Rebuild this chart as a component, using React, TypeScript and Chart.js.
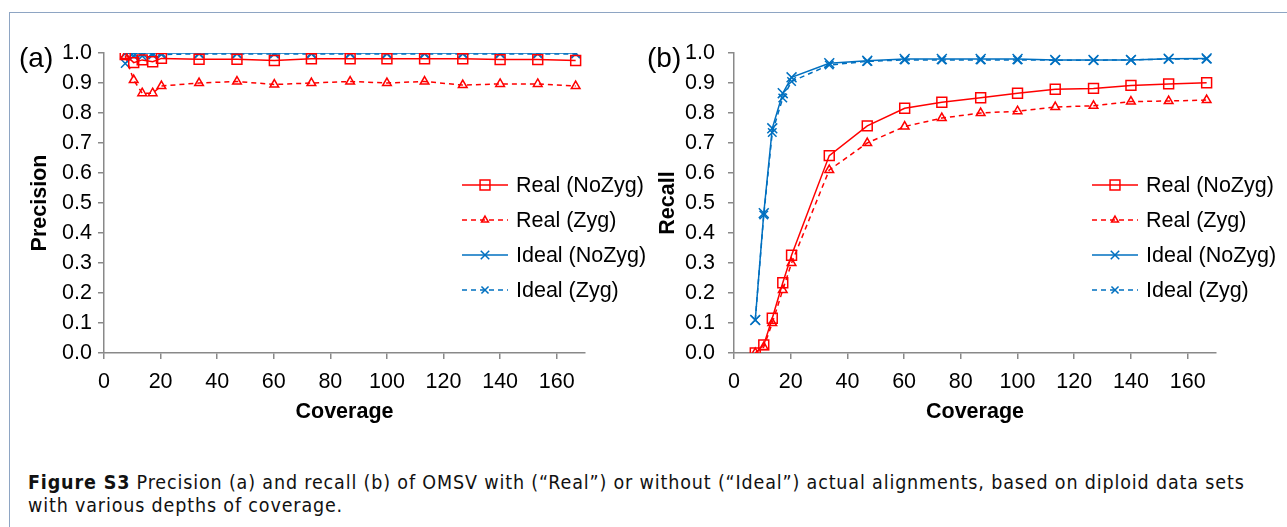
import React, { useEffect, useRef } from 'react';
import { Chart, registerables } from 'chart.js';

Chart.register(...registerables);

// ---------- data ----------
const coverage = [7.5, 10.5, 13.5, 17.2, 20.3, 33.6, 47, 60.2, 73.3, 87, 100, 113.3, 126.8, 140, 153.3, 166.7];

const seriesLabels = ['Real (NoZyg)', 'Real (Zyg)', 'Ideal (NoZyg)', 'Ideal (Zyg)'];

// Panel (a) precision
const precisionRealNoZyg = [0.995, 0.968, 0.977, 0.971, 0.982, 0.979, 0.979, 0.975, 0.981, 0.981, 0.981, 0.981, 0.981, 0.978, 0.978, 0.975];
const precisionRealZyg = [0.99, 0.91, 0.866, 0.866, 0.89, 0.9, 0.905, 0.895, 0.9, 0.905, 0.9, 0.905, 0.893, 0.897, 0.897, 0.89];
const precisionIdealNoZyg = [0.998, 1.0, 1.0, 1.0, 1.0, 1.0, 1.0, 1.0, 1.0, 1.0, 1.0, 1.0, 1.0, 1.0, 1.0, 1.0];
const precisionIdealZyg = [0.965, 0.99, 0.99, 0.993, 0.995, 0.997, 0.997, 0.997, 0.997, 0.997, 0.997, 0.997, 0.997, 0.997, 0.997, 0.997];

// Panel (b) recall
const recallRealNoZyg = [0.0, 0.027, 0.116, 0.234, 0.326, 0.658, 0.757, 0.816, 0.836, 0.851, 0.866, 0.879, 0.882, 0.892, 0.897, 0.901];
const recallRealZyg = [0.0, 0.02, 0.1, 0.21, 0.3, 0.61, 0.7, 0.755, 0.783, 0.8, 0.806, 0.82, 0.824, 0.838, 0.84, 0.843];
const recallIdealNoZyg = [0.11, 0.466, 0.749, 0.866, 0.919, 0.966, 0.974, 0.98, 0.98, 0.98, 0.98, 0.977, 0.977, 0.977, 0.981, 0.982];
const recallIdealZyg = [0.11, 0.46, 0.735, 0.85, 0.905, 0.96, 0.972, 0.977, 0.977, 0.977, 0.977, 0.976, 0.976, 0.977, 0.98, 0.98];

const xMin = 0;
const xMax = 170;
const xStep = 20;
const yMin = 0;
const yMax = 1;
const yStep = 0.1;

// ---------- styles ----------
const RED = '#FF0000';
const BLUE = '#0070C0';
const AXIS = '#898989';
const FONT = "'Liberation Sans', Arial, Helvetica, sans-serif";
const FS = 21.5;

type Style = { color: string; dash: number[]; point: string; radius: number };
const styles: Style[] = [
  { color: RED, dash: [], point: 'rect', radius: 7 },
  { color: RED, dash: [5, 4], point: 'triangle', radius: 5 },
  { color: BLUE, dash: [], point: 'crossRot', radius: 7 },
  { color: BLUE, dash: [5, 4], point: 'crossRot', radius: 6 },
];

function buildDatasets(values: number[][]) {
  return values.map((vals, i) => ({
    label: seriesLabels[i],
    data: vals.map((v, k) => ({ x: coverage[k], y: v })),
    borderColor: styles[i].color,
    backgroundColor: 'rgba(0,0,0,0)',
    borderWidth: 1.5,
    borderDash: styles[i].dash,
    pointStyle: styles[i].point,
    pointRadius: styles[i].radius,
    pointBorderWidth: 1.5,
    pointBorderColor: styles[i].color,
    pointBackgroundColor: 'rgba(0,0,0,0)',
    tension: 0,
    fill: false,
  }));
}

function drawMarker(ctx: CanvasRenderingContext2D, style: string, x: number, y: number, r: number) {
  ctx.beginPath();
  if (style === 'rect') {
    const s = r * Math.SQRT1_2;
    ctx.rect(x - s, y - s, 2 * s, 2 * s);
  } else if (style === 'triangle') {
    ctx.moveTo(x, y - r);
    ctx.lineTo(x + r * Math.sin((2 * Math.PI) / 3), y - r * Math.cos((2 * Math.PI) / 3));
    ctx.lineTo(x + r * Math.sin((4 * Math.PI) / 3), y - r * Math.cos((4 * Math.PI) / 3));
    ctx.closePath();
  } else {
    const o = r * Math.SQRT1_2;
    ctx.moveTo(x - o, y - o);
    ctx.lineTo(x + o, y + o);
    ctx.moveTo(x - o, y + o);
    ctx.lineTo(x + o, y - o);
  }
  ctx.stroke();
}

const legendPlugin = {
  id: 'insideLegend',
  afterDraw(chart: any) {
    const { ctx, chartArea } = chart;
    const x0 = chartArea.left + 358;
    chart.data.datasets.forEach((ds: any, i: number) => {
      const y = 185 + i * 35;
      ctx.save();
      ctx.strokeStyle = ds.borderColor;
      ctx.lineWidth = 1.5;
      ctx.setLineDash(ds.borderDash || []);
      ctx.beginPath();
      ctx.moveTo(x0, y);
      ctx.lineTo(x0 + 46, y);
      ctx.stroke();
      ctx.setLineDash([]);
      drawMarker(ctx, ds.pointStyle, x0 + 23, y, ds.pointStyle === 'rect' ? 7 : ds.pointRadius - 1);
      ctx.fillStyle = '#000';
      ctx.font = `${FS}px ${FONT}`;
      ctx.textBaseline = 'middle';
      ctx.textAlign = 'left';
      ctx.fillText(ds.label, x0 + 54, y + 1);
      ctx.restore();
    });
  },
};

type PanelProps = {
  left: number;
  width: number;
  values: number[][];
  yTitle: string;
  yWidth: number;
  yTitlePad: number;
  yTickPad: number;
  rightPad: number;
};

const CANVAS_H = 440;

function Panel({ left, width, values, yTitle, yWidth, yTitlePad, yTickPad, rightPad }: PanelProps) {
  const ref = useRef<HTMLCanvasElement | null>(null);
  useEffect(() => {
    if (!ref.current) return;
    const chart = new Chart(ref.current, {
      type: 'line',
      data: { datasets: buildDatasets(values) as any },
      options: {
        animation: false,
        responsive: false,
        maintainAspectRatio: false,
        layout: { padding: { left: 0, top: 53, right: rightPad, bottom: 0 } },
        plugins: { legend: { display: false }, tooltip: { enabled: false } },
        scales: {
          x: {
            type: 'linear',
            min: xMin,
            max: xMax,
            afterFit: (s: any) => {
              s.height = CANVAS_H - 353;
            },
            ticks: {
              stepSize: xStep,
              includeBounds: false,
              autoSkip: false,
              maxRotation: 0,
              padding: 10,
              color: '#000',
              font: { family: FONT, size: FS },
            },
            grid: { drawOnChartArea: false, drawTicks: true, tickLength: 6, color: AXIS, lineWidth: 1.5 },
            border: { display: true, color: AXIS, width: 1.5 },
            title: {
              display: true,
              text: 'Coverage',
              color: '#000',
              font: { family: FONT, size: FS, weight: 'bold' },
              padding: { top: 0, bottom: 15 },
            },
          },
          y: {
            type: 'linear',
            min: yMin,
            max: yMax,
            afterFit: (s: any) => {
              s.width = yWidth;
            },
            ticks: {
              stepSize: yStep,
              includeBounds: false,
              padding: yTickPad,
              color: '#000',
              font: { family: FONT, size: FS },
              callback: (v: any) => Number(v).toFixed(1),
            },
            grid: { drawOnChartArea: false, drawTicks: true, tickLength: 6, color: AXIS, lineWidth: 1.5 },
            border: { display: true, color: AXIS, width: 1.5 },
            title: {
              display: true,
              text: yTitle,
              color: '#000',
              font: { family: FONT, size: FS, weight: 'bold' },
              padding: { top: yTitlePad, bottom: 0 },
            },
          },
        },
      } as any,
      plugins: [legendPlugin],
    });
    return () => chart.destroy();
  }, []);
  return (
    <canvas
      ref={ref}
      width={width}
      height={CANVAS_H}
      style={{ position: 'absolute', left, top: 0, width, height: CANVAS_H }}
    />
  );
}

const panelLabelStyle: React.CSSProperties = {
  position: 'absolute',
  top: 42,
  fontFamily: FONT,
  fontSize: 28,
  lineHeight: '32px',
  color: '#000',
};

export default function App() {
  return (
    <div
      style={{
        position: 'absolute',
        left: 0,
        top: 0,
        width: 1287,
        height: 527,
        overflow: 'hidden',
        background: '#fff',
      }}
    >
      <div
        style={{
          position: 'absolute',
          left: 9,
          top: 12,
          width: 1290,
          height: 530,
          borderTop: '1px solid #8ea5c3',
          borderLeft: '1px solid #8ea5c3',
        }}
      />
      <Panel
        left={0}
        width={650}
        values={[precisionRealNoZyg, precisionRealZyg, precisionIdealNoZyg, precisionIdealZyg]}
        yTitle="Precision"
        yWidth={104}
        yTitlePad={27}
        yTickPad={6}
        rightPad={65}
      />
      <Panel
        left={650}
        width={637}
        values={[recallRealNoZyg, recallRealZyg, recallIdealNoZyg, recallIdealZyg]}
        yTitle="Recall"
        yWidth={84}
        yTitlePad={5}
        yTickPad={13}
        rightPad={71}
      />
      <div style={{ ...panelLabelStyle, left: 19 }}>(a)</div>
      <div style={{ ...panelLabelStyle, left: 647 }}>(b)</div>
      <div
        style={{
          position: 'absolute',
          left: 28,
          top: 471,
          fontFamily: "'DejaVu Sans Condensed', 'Liberation Sans Narrow', 'Noto Sans', sans-serif",
          fontSize: 19.5,
          letterSpacing: '0.85px',
          lineHeight: '23px',
          color: '#111',
          whiteSpace: 'nowrap',
        }}
      >
        <div>
          <b>Figure S3</b> Precision (a) and recall (b) of OMSV with (“Real”) or without (“Ideal”) actual alignments, based on diploid data sets
        </div>
        <div>with various depths of coverage.</div>
      </div>
    </div>
  );
}
